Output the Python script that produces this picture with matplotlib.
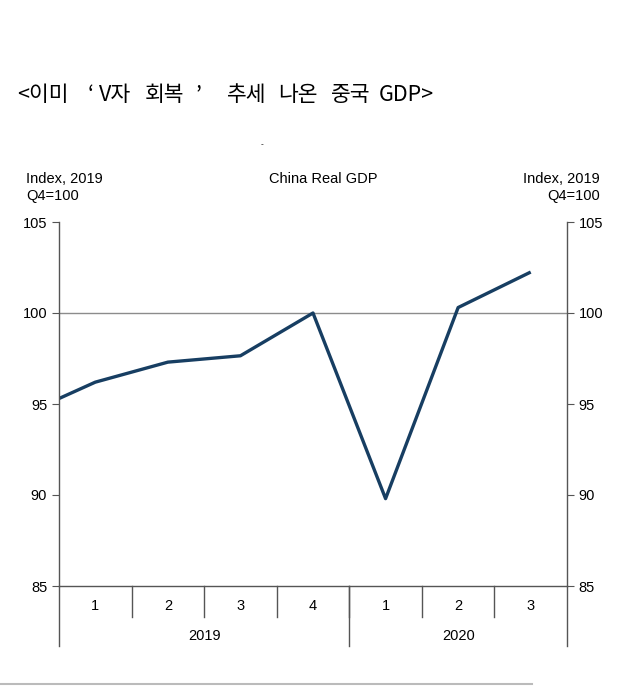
import matplotlib.pyplot as plt
import numpy as np

plt.rcParams['font.family'] = ['Liberation Sans', 'DejaVu Sans']

# datos (indice, 2019 Q4 = 100); el primer punto es 2018 Q4, queda recortado
trimestres = ['1', '2', '3', '4', '1', '2', '3']
anios = ['2019', '2020']
trim_por_anio = [4, 3]
gdp = [94.4, 96.2, 97.3, 97.65, 100.0, 89.8, 100.3, 102.25]
x_gdp = np.arange(-1, len(trimestres))

# titulo en trozos (separaciones anchas como en el original)
titulo = ['<이미', '‘', 'V자', '회복', '’', '추세', '나온', '중국', 'GDP>']
titulo_x = [17, 88, 99, 145, 196, 227, 278, 331, 379]

fig = plt.figure(figsize=(6.3, 6.86), dpi=100)
ax = fig.add_axes([59/630, 1-586/686, 508/630, 364/686])

ax.plot(x_gdp, gdp, color='#173e62', lw=2.4, solid_capstyle='butt')
ax.axhline(100, color='#8c8c8c', lw=1.0, zorder=0)

ax.set_xlim(-0.5, len(trimestres) - 0.5)
ax.set_ylim(85, 105)
ax.set_yticks([85, 90, 95, 100, 105])
ax.spines['top'].set_visible(False)
for s in ['left', 'right', 'bottom']:
    ax.spines[s].set_color('#555555')
    ax.spines[s].set_linewidth(1.0)
ax.tick_params(axis='y', direction='out', length=5, color='#555555',
               labelsize=10.5, left=True, right=True, labelleft=True, labelright=True)
ax.set_xticks([])

# eje de categorias (trimestres y anios)
tr = ax.get_xaxis_transform()
for i, q in enumerate(trimestres):
    ax.text(i, -0.055, q, transform=tr, ha='center', va='center', fontsize=10.5)
limites = np.cumsum([0] + trim_por_anio) - 0.5
for i in range(1, len(trimestres)):
    ax.plot([i - 0.5, i - 0.5], [0, -0.085], transform=tr, color='#555555',
            lw=1.0, clip_on=False)
for b in limites:
    ax.plot([b, b], [0, -0.165], transform=tr, color='#555555', lw=1.0, clip_on=False)
for j, a in enumerate(anios):
    c = (limites[j] + limites[j + 1]) / 2
    ax.text(c, -0.137, a, transform=tr, ha='center', va='center', fontsize=10.5)

# textos
fig.text(26/630, 1-172/686, 'Index, 2019\nQ4=100', ha='left', va='top',
         fontsize=10.5, linespacing=1.3)
fig.text(600/630, 1-172/686, 'Index, 2019\nQ4=100', ha='right', va='top',
         fontsize=10.5, linespacing=1.3, multialignment='right')
fig.text(323/630, 1-172/686, 'China Real GDP', ha='center', va='top', fontsize=10.5)
fig.text(262/630, 1-145/686, '-', ha='center', va='center', fontsize=6)

for t, xp in zip(titulo, titulo_x):
    fig.text(xp/630, 1-95/686, t, ha='left', va='center', fontsize=15.5,
             family=['Noto Sans CJK KR', 'DejaVu Sans'])

fig.add_artist(plt.Line2D([0, 532/630], [1-684/686, 1-684/686], color='#bbbbbb', lw=1.5))

fig.savefig('out.png', dpi=100)
